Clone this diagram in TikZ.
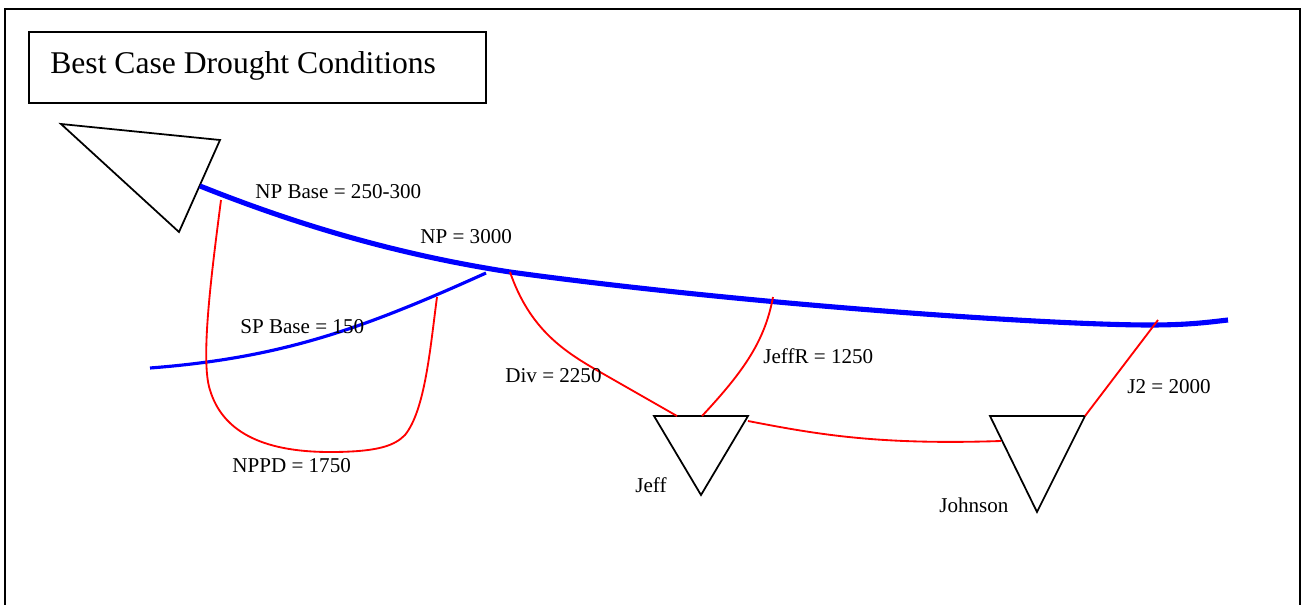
\documentclass[tikz,border=0pt]{standalone}
\usepackage{fontspec}
\setmainfont{Liberation Serif}
\usepackage{tikz}

\begin{document}
\begin{tikzpicture}[x=0.02cm, y=-0.02cm,
    river/.style={blue, line width=2.9pt},
    branch/.style={blue, line width=1.8pt},
    canal/.style={red, line width=1.05pt},
    lake/.style={black, line width=1pt, line join=miter},
    lbl/.style={anchor=base west, inner sep=0pt, font=\fontsize{12}{14}\selectfont}]
                \useasboundingbox (0,0) rectangle (1302,605);
                \draw[line width=1pt] (5,605) |- (1300,9) -- (1300,605);

                % title
                \draw[line width=0.8pt] (29,32) rectangle (486,103);
                \node[anchor=base west, inner sep=0pt, font=\fontsize{18}{22}\selectfont] (title) at (50,73) {Best Case Drought Conditions};

                % reservoirs
                \coordinate (lmA) at (61,124);
                \coordinate (lmB) at (220,140);
                \coordinate (lmC) at (179,232);
                \draw[lake] (lmA) -- (lmB) -- (lmC) -- cycle;

                \coordinate (jeffL) at (654,416);
                \coordinate (jeffR) at (748,416);
                \coordinate (jeffB) at (701,495);
                \draw[lake] (jeffL) -- (jeffR) -- (jeffB) -- cycle;

                \coordinate (johnL) at (990,416);
                \coordinate (johnR) at (1085,416);
                \coordinate (johnB) at (1037,512);
                \draw[lake] (johnL) -- (johnR) -- (johnB) -- cycle;

                % rivers
                \coordinate (npStart) at (200,186);
                \coordinate (npDiv) at (510,272);
                \coordinate (npLow) at (1150,325);
                \coordinate (npEnd) at (1228,320);
                \draw[river] (npStart) .. controls (300,226) and (400,255) .. (npDiv)
                    .. controls (750,305) and (1050,325) .. (npLow)
                    .. controls (1190,325) and (1210,322) .. (npEnd);

                \coordinate (spStart) at (150,368);
                \coordinate (spEnd) at (486,273);
                \draw[branch] (spStart) .. controls (280,358) and (360,330) .. (spEnd);

                % canals
                \coordinate (nppdTop) at (221,200);
                \coordinate (nppdEnd) at (437,297);
                \draw[canal] (nppdTop) .. controls (212,270) and (200,360) .. (210,390)
                    .. controls (222,430) and (260,452) .. (330,452)
                    .. controls (380,452) and (395,445) .. (405,435)
                    .. controls (425,410) and (430,350) .. (nppdEnd);

                \coordinate (divIn) at (677,416);
                \draw[canal] (npDiv) .. controls (530,330) and (565,352) .. (600,372) -- (divIn);

                \coordinate (jrTop) at (773,297);
                \coordinate (jrIn) at (702,416);
                \draw[canal] (jrTop) .. controls (765,340) and (745,370) .. (jrIn);

                \coordinate (jeffOut) at (748,421);
                \coordinate (johnIn) at (1001,441);
                \draw[canal] (jeffOut) .. controls (820,435) and (880,445) .. (johnIn);

                \coordinate (j2Top) at (1158,320);
                \draw[canal] (johnR) -- (j2Top);

                % labels
                \node[lbl] (npbase) at (255,198) {NP Base = 250-300};
                \node[lbl] (np) at (420,243) {NP = 3000};
                \node[lbl] (spbase) at (240,333) {SP Base = 150};
                \node[lbl] (nppd) at (232,472) {NPPD = 1750};
                \node[lbl] (div) at (505,382) {Div = 2250};
                \node[lbl] (jeffr) at (763,363) {JeffR = 1250};
                \node[lbl] (jeff) at (635,492) {Jeff};
                \node[lbl] (johnson) at (939,512) {Johnson};
                \node[lbl] (j2) at (1127,393) {J2 = 2000};
            \end{tikzpicture}
\end{document}
